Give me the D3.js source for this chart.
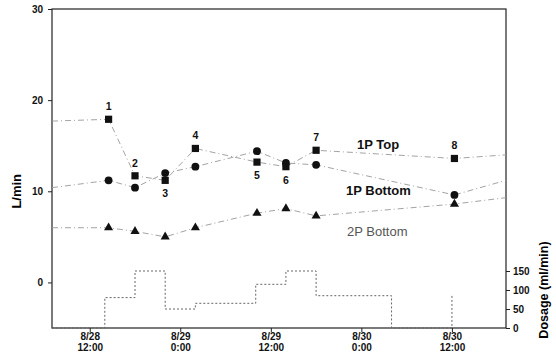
<!DOCTYPE html>
<html>
<head>
<meta charset="utf-8">
<script src="https://cdn.jsdelivr.net/npm/d3@7"></script>
<style>
  body { margin: 0; background: #fff; }
  svg { font-family: Arial, "Liberation Sans", sans-serif; }
</style>
</head>
<body>
<script>
// sample times (8 points) and the three flow series, L/min
var sampleTimes = ["8/28 14:30", "8/28 18:00", "8/28 22:00", "8/29 02:00",
                   "8/29 10:10", "8/29 14:00", "8/29 18:00", "8/30 12:20"];
var sampleIds = ["1", "2", "3", "4", "5", "6", "7", "8"];
var idAbove = [true, true, false, true, false, false, true, true];

var topValues    = [17.9, 11.7, 11.2, 14.7, 13.2, 12.7, 14.5, 13.6];
var bottomValues = [11.2, 10.4, 12.0, 12.7, 14.4, 13.1, 12.9, 9.6];
var p2Values     = [6.0, 5.6, 5.0, 6.0, 7.6, 8.1, 7.3, 8.6];

// where each line meets the frame, left and right
var edgeTimes = ["8/28 07:00", "8/30 19:10"];
var topEdges    = [17.7, 14.0];
var bottomEdges = [10.4, 11.2];
var p2Edges     = [6.0, 9.3];

// dosage steps, ml/min
var doseTimes  = ["8/28 07:00", "8/28 14:00", "8/28 18:00", "8/28 22:00", "8/29 02:00",
                  "8/29 10:00", "8/29 14:00", "8/29 18:00", "8/30 04:00", "8/30 12:00"];
var doseValues = [0, 80, 150, 50, 65, 115, 150, 85, 0, 85];

var xTicks = ["8/28 12:00", "8/29 00:00", "8/29 12:00", "8/30 00:00", "8/30 12:00"];
var xTickLabels = [["8/28", "12:00"], ["8/29", "0:00"], ["8/29", "12:00"], ["8/30", "0:00"], ["8/30", "12:00"]];
var flowTicks = [0, 10, 20, 30];
var doseTicks = [0, 50, 100, 150];

window.onload = drawChart;

function drawChart(){
    var width = 556, height = 354;
    var mLeft = 52, mRight = 506, mTop = 9, mBottom = 328;

    var parse = d3.timeParse("%m/%d %H:%M");

    var svg = d3.select("body").append("svg")
        .attr("width", width)
        .attr("height", height);

    var x = d3.scaleTime()
        .domain([parse(edgeTimes[0]), parse(edgeTimes[1])])
        .range([mLeft, mRight]);

    var y = d3.scaleLinear()
        .domain([-5, 30])
        .range([mBottom, mTop]);

    var yDose = d3.scaleLinear()
        .domain([0, 150])
        .range([mBottom, 271]);

    //frame
    svg.append("rect")
        .attr("x", mLeft).attr("y", mTop)
        .attr("width", mRight - mLeft).attr("height", mBottom - mTop)
        .attr("fill", "none").attr("stroke", "#222").attr("stroke-width", 1.2);

    //left axis
    var yAxis = svg.append("g")
        .attr("transform", "translate(" + mLeft + ",0)")
        .call(d3.axisLeft(y).tickValues(flowTicks).tickSize(4).tickPadding(5).tickFormat(d3.format("d")));
    yAxis.select(".domain").remove();
    yAxis.selectAll("text").attr("font-size", 10).attr("font-weight", "bold").attr("fill", "#111");
    yAxis.selectAll("line").attr("stroke", "#222");

    //right dosage axis
    var rAxis = svg.append("g")
        .attr("transform", "translate(" + mRight + ",0)")
        .call(d3.axisRight(yDose).tickValues(doseTicks).tickSize(4).tickPadding(3));
    rAxis.select(".domain").remove();
    rAxis.selectAll("text").attr("font-size", 10).attr("font-weight", "bold").attr("fill", "#111");
    rAxis.selectAll("line").attr("stroke", "#222");

    //bottom time axis
    var xAxis = svg.append("g")
        .attr("transform", "translate(0," + mBottom + ")")
        .call(d3.axisBottom(x).tickValues(xTicks.map(parse)).tickSize(4).tickFormat(""));
    xAxis.select(".domain").remove();
    xAxis.selectAll("line").attr("stroke", "#222");
    xAxis.selectAll(".tick").each(function(d, i) {
        var t = d3.select(this).append("text")
            .attr("fill", "#111")
            .attr("font-size", 10)
            .attr("font-weight", "bold")
            .attr("text-anchor", "middle");
        t.append("tspan").attr("x", 0).attr("y", 12).text(xTickLabels[i][0]);
        t.append("tspan").attr("x", 0).attr("y", 23).text(xTickLabels[i][1]);
    });

    //axis titles
    svg.append("text")
        .attr("transform", "translate(21," + y(10) + ") rotate(-90)")
        .attr("text-anchor", "middle")
        .attr("font-size", 13).attr("font-weight", "bold")
        .text("L/min");

    svg.append("text")
        .attr("transform", "translate(548,290) rotate(-90)")
        .attr("text-anchor", "middle")
        .attr("font-size", 12.5).attr("font-weight", "bold")
        .text("Dosage (ml/min)");

    //dosage step line
    var doseData = doseTimes.map(function(t, i) { return { t: parse(t), v: doseValues[i] }; });
    svg.append("path")
        .datum(doseData)
        .attr("fill", "none")
        .attr("stroke", "#666")
        .attr("stroke-width", 1)
        .attr("stroke-dasharray", "2,2")
        .attr("d", d3.line()
            .curve(d3.curveStepAfter)
            .x(function(d) { return x(d.t); })
            .y(function(d) { return yDose(d.v); }));

    //flow series
    var series = [
        { name: "top", values: topValues, edges: topEdges, symbol: d3.symbolSquare, size: 52 },
        { name: "bottom", values: bottomValues, edges: bottomEdges, symbol: d3.symbolCircle, size: 48 },
        { name: "p2", values: p2Values, edges: p2Edges, symbol: d3.symbolTriangle, size: 36 }
    ];

    var line = d3.line()
        .x(function(d) { return x(d.t); })
        .y(function(d) { return y(d.v); });

    series.forEach(function(s) {
        var pts = sampleTimes.map(function(t, i) { return { t: parse(t), v: s.values[i] }; });
        var full = [{ t: parse(edgeTimes[0]), v: s.edges[0] }]
            .concat(pts)
            .concat([{ t: parse(edgeTimes[1]), v: s.edges[1] }]);

        svg.append("path")
            .datum(full)
            .attr("fill", "none")
            .attr("stroke", "#999")
            .attr("stroke-width", 0.9)
            .attr("stroke-dasharray", "6,3,1,3")
            .attr("d", line);

        svg.selectAll(".m-" + s.name)
            .data(pts)
            .enter()
            .append("path")
            .attr("class", "m-" + s.name)
            .attr("transform", function(d) { return "translate(" + x(d.t) + "," + y(d.v) + ")"; })
            .attr("d", d3.symbol().type(s.symbol).size(s.size))
            .attr("fill", "#111");
    });

    //point numbers on the 1P Top squares
    svg.selectAll(".pid")
        .data(sampleTimes)
        .enter()
        .append("text")
        .attr("class", "pid")
        .attr("x", function(d) { return x(parse(d)); })
        .attr("y", function(d, i) { return idAbove[i] ? y(topValues[i]) - 9 : y(topValues[i]) + 17; })
        .attr("text-anchor", "middle")
        .attr("font-size", 10.5)
        .attr("font-weight", "bold")
        .attr("fill", "#111")
        .text(function(d, i) { return sampleIds[i]; });

    //series labels
    svg.append("text").attr("x", 357).attr("y", 149)
        .attr("font-size", 13).attr("font-weight", "bold").attr("fill", "#111")
        .text("1P Top");
    svg.append("text").attr("x", 346).attr("y", 195)
        .attr("font-size", 13).attr("font-weight", "bold").attr("fill", "#111")
        .text("1P Bottom");
    svg.append("text").attr("x", 347).attr("y", 236)
        .attr("font-size", 13).attr("fill", "#555")
        .text("2P Bottom");
}
</script>
</body>
</html>
